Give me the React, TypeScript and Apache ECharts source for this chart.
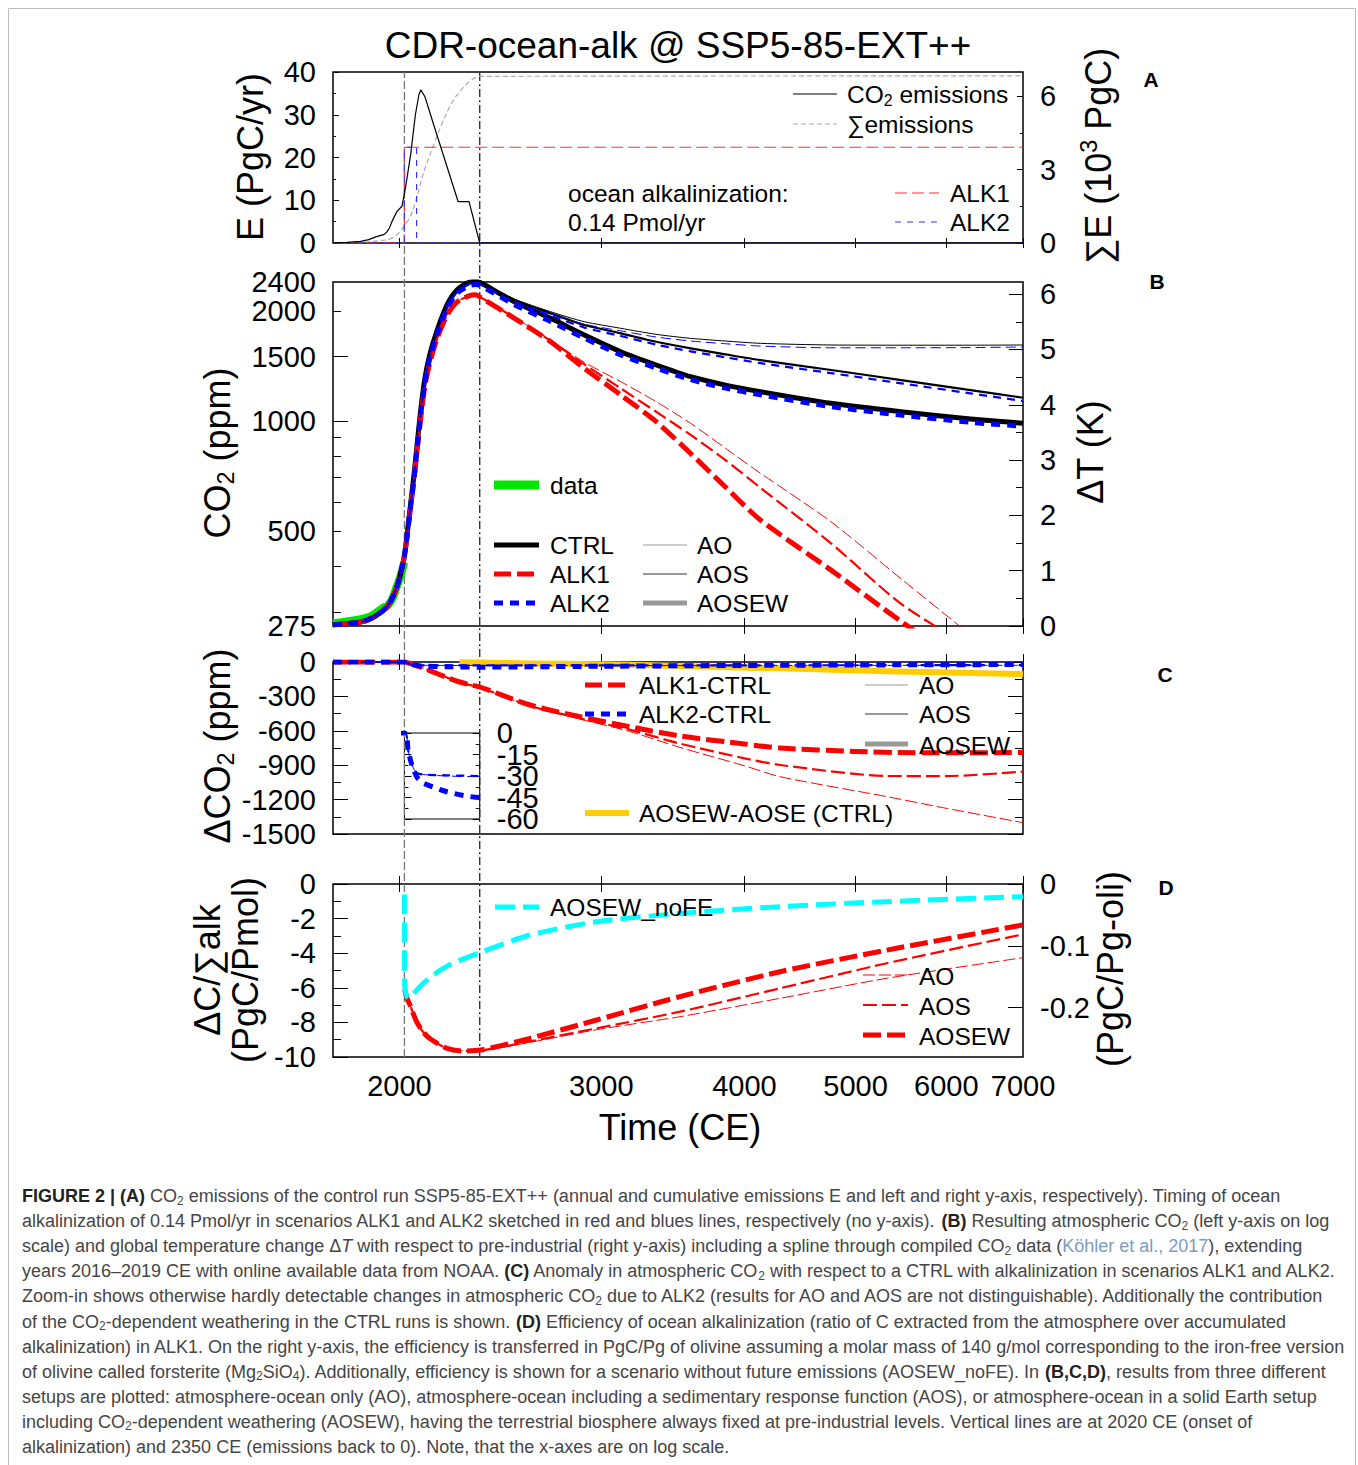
import React, { useEffect, useRef } from "react";
import * as echarts from "echarts";

const FONT = '"Liberation Sans", Arial, Helvetica, sans-serif';
const W = 1358;
const H = 1465;

// ---------------- axes / ticks ----------------
const X_RANGE = [1750, 7000];
const X_TICKS = [2000, 3000, 4000, 5000, 6000, 7000];
const VLINE_YEARS = [2020, 2350];
const INSET_X_RANGE = [2020, 2350];

const A_LEFT_RANGE = [0, 40];
const A_LEFT_TICKS = [0, 10, 20, 30, 40];
const A_LEFT_MINOR = [5, 15, 25, 35];
const A_RIGHT_RANGE = [0, 7];
const A_RIGHT_TICKS = [0, 3, 6];
const A_RIGHT_MINOR = [1.5, 4.5];

const B_LEFT_RANGE = [275, 2400];
const B_LEFT_LABELS = [275, 500, 1000, 1500, 2000, 2400];
const B_LEFT_MAJOR = [1000, 1500];
const B_LEFT_MINOR = [300, 400, 500, 600, 700, 800, 900, 2000];
const B_RIGHT_RANGE = [0, 6.22];
const B_RIGHT_TICKS = [0, 1, 2, 3, 4, 5, 6];
const B_RIGHT_MINOR = [0.5, 1.5, 2.5, 3.5, 4.5, 5.5];

const C_RANGE = [-1500, 0];
const C_TICKS = [0, -300, -600, -900, -1200, -1500];
const C_MINOR = [-150, -450, -750, -1050, -1350];

const D_LEFT_RANGE = [-10, 0];
const D_LEFT_TICKS = [0, -2, -4, -6, -8, -10];
const D_LEFT_MINOR = [-1, -3, -5, -7, -9];
const D_RIGHT_RANGE = [-0.28, 0];
const D_RIGHT_TICKS = [0, -0.1, -0.2];

const INSET_RANGE = [-60, 0];
const INSET_TICKS = [0, -15, -30, -45, -60];
const INSET_LABELS_A = [0, -30, -60];
const INSET_LABELS_B = [-15, -45];
const INSET_MINOR = [-7.5, -22.5, -37.5, -52.5];

// ---------------- panel A data ----------------
const E_YEARS = [1750, 1800, 1850, 1880, 1910, 1940, 1950, 1960, 1970, 1990, 2010, 2020, 2030, 2045, 2065, 2080, 2088, 2105, 2155, 2250, 2300, 2350, 7000];
const E_VALUES = [0.05, 0.15, 0.4, 0.8, 1.5, 2.0, 2.6, 3.5, 5.0, 7.4, 8.6, 11.5, 15.0, 20.5, 30.0, 34.8, 35.8, 34.2, 25.5, 9.7, 9.7, 0, 0];
const CUM_YEARS = [1750, 1850, 1900, 1950, 1980, 2000, 2020, 2045, 2068, 2100, 2130, 2155, 2200, 2240, 2300, 2350, 7000];
const CUM_VALUES = [0, 0.03, 0.07, 0.13, 0.25, 0.45, 0.7, 1.1, 1.77, 2.9, 3.7, 4.35, 5.35, 6.0, 6.6, 6.82, 6.84];
const ALK1_RATE_YEARS = [1750, 2020, 2020, 7000];
const ALK1_RATE = [0, 0, 22.4, 22.4];
const ALK2_RATE_YEARS = [1750, 2020, 2020, 2070, 2070, 7000];
const ALK2_RATE = [0, 0, 22.4, 22.4, 0, 0];

// ---------------- panel B data (CO2 ppm) ----------------
const DATA_YEARS = [1750, 1800, 1850, 1880, 1900, 1920, 1940, 1950, 1960, 1970, 1980, 1990, 2000, 2010, 2019];
const DATA_CO2 = [280, 283, 287, 291, 296, 303, 310, 311, 317, 325, 338, 354, 369, 389, 411];

const YEARS_B = [1750, 1850, 1900, 1950, 1980, 2000, 2020, 2040, 2060, 2085, 2105, 2125, 2155, 2200, 2245, 2300, 2330, 2350, 2520, 2710, 2900, 3120, 3350, 3590, 3850, 4130, 4760, 5480, 6300, 7000];
const CTRL_AOSEW = [277, 282, 291, 310, 338, 372, 428, 553, 720, 1040, 1310, 1515, 1755, 2076, 2283, 2395, 2410, 2395, 2120, 1909, 1719, 1547, 1423, 1322, 1254, 1203, 1118, 1060, 1013, 986];
const CTRL_AOS = [277, 282, 291, 310, 338, 372, 428, 553, 720, 1040, 1310, 1515, 1755, 2076, 2283, 2395, 2410, 2398, 2142, 1971, 1830, 1737, 1647, 1580, 1522, 1468, 1379, 1294, 1215, 1158];
const CTRL_AO = [277, 282, 291, 310, 338, 372, 428, 553, 720, 1040, 1310, 1515, 1755, 2076, 2283, 2395, 2410, 2400, 2156, 1990, 1869, 1793, 1726, 1683, 1655, 1631, 1614, 1612, 1612, 1614];
const ALK1_AOSEW = [277, 282, 291, 310, 338, 372, 428, 543, 700, 990, 1250, 1435, 1665, 1945, 2115, 2200, 2215, 2185, 1909, 1647, 1393, 1178, 996, 815, 660, 536, 391, 283, 210, 170];
const ALK1_AOS = [277, 282, 291, 310, 338, 372, 428, 543, 700, 990, 1250, 1435, 1665, 1945, 2115, 2200, 2215, 2188, 1915, 1655, 1429, 1228, 1060, 916, 782, 657, 463, 316, 240, 195];
const ALK1_AO = [277, 282, 291, 310, 338, 372, 428, 543, 700, 990, 1250, 1435, 1665, 1945, 2115, 2200, 2215, 2190, 1920, 1665, 1447, 1281, 1129, 986, 842, 720, 530, 370, 260, 200];
const ALK2_AOSEW = [277, 282, 291, 310, 338, 372, 428, 545, 703, 1012, 1277, 1478, 1715, 2032, 2236, 2345, 2362, 2350, 2080, 1872, 1685, 1516, 1396, 1298, 1230, 1180, 1095, 1038, 992, 968];
const ALK2_AOS = [277, 282, 291, 310, 338, 372, 428, 545, 703, 1015, 1285, 1488, 1728, 2048, 2254, 2366, 2381, 2368, 2112, 1942, 1801, 1708, 1618, 1551, 1494, 1440, 1352, 1268, 1190, 1134];
const ALK2_AO = [277, 282, 291, 310, 338, 372, 428, 545, 703, 1015, 1285, 1488, 1728, 2048, 2254, 2366, 2381, 2370, 2126, 1961, 1840, 1764, 1697, 1655, 1627, 1603, 1586, 1586, 1588, 1594];

// ---------------- panel C data (delta CO2 ppm) ----------------
const C_ALK1_AOSEW = [[1750, 0], [2020, 0], [2050, -18], [2100, -55], [2150, -95], [2200, -135], [2250, -170], [2300, -196], [2350, -218], [2600, -375], [2875, -477], [3174, -564], [3514, -645], [4000, -715], [4296, -750], [5000, -780], [5613, -791], [7000, -790]];
const C_ALK1_AOS = [[1750, 0], [2020, 0], [2050, -18], [2100, -55], [2150, -95], [2200, -136], [2250, -172], [2300, -199], [2350, -222], [2600, -382], [2875, -492], [3174, -590], [3514, -712], [4000, -840], [4296, -898], [5324, -994], [6000, -995], [7000, -956]];
const C_ALK1_AO = [[1750, 0], [2020, 0], [2050, -18], [2100, -55], [2150, -95], [2200, -136], [2250, -172], [2300, -199], [2350, -222], [2600, -385], [2875, -498], [3174, -605], [3514, -745], [4000, -905], [4296, -1000], [5324, -1174], [6000, -1276], [7000, -1401]];
const C_ALK2_AOSEW = [[1750, 0], [2020, 0], [2035, -12], [2050, -22], [2072, -31], [2100, -35], [2200, -41], [2350, -45], [2600, -42], [3000, -37], [4000, -30], [5000, -26], [7000, -22]];
const C_ALK2_AOS = [[1750, 0], [2020, 0], [2035, -12], [2050, -22], [2072, -28], [2100, -29], [2200, -29.5], [2350, -30], [3000, -30], [4000, -29], [7000, -27]];
const C_ALK2_AO = [[1750, 0], [2020, 0], [2035, -12], [2050, -22], [2072, -28], [2100, -29], [2200, -30], [2350, -30.5], [3000, -31], [4000, -30], [7000, -29]];
const C_WEATHERING = [[2256, -2], [2350, -5], [2600, -12], [3000, -20], [3514, -35], [4296, -55], [5324, -80], [7000, -105]];

// ---------------- panel D data (PgC/Pmol) ----------------
const D_NOFE = [[2020, -0.6], [2021, -5.9], [2030, -6.5], [2040, -6.6], [2060, -6.3], [2090, -5.85], [2127, -5.4], [2200, -4.75], [2280, -4.3], [2355, -3.95], [2600, -2.95], [2973, -2.18], [3514, -1.7], [4296, -1.31], [5324, -1.02], [7000, -0.73]];
const D_AOSEW = [[2021, -6.1], [2030, -6.6], [2043, -7.0], [2070, -7.96], [2100, -8.6], [2135, -9.02], [2200, -9.5], [2270, -9.65], [2355, -9.6], [2600, -8.92], [2973, -7.86], [3514, -6.51], [4296, -5.07], [5324, -3.82], [7000, -2.37]];
const D_AOS = [[2021, -6.1], [2030, -6.6], [2043, -7.0], [2070, -7.96], [2100, -8.6], [2135, -9.02], [2200, -9.5], [2270, -9.65], [2355, -9.62], [2600, -9.1], [2973, -8.34], [3514, -7.38], [4296, -6.03], [5324, -4.58], [7000, -2.91]];
const D_AO = [[2021, -6.1], [2030, -6.6], [2043, -7.0], [2070, -7.96], [2100, -8.6], [2135, -9.02], [2200, -9.5], [2270, -9.65], [2355, -9.63], [2600, -9.15], [2973, -8.42], [3514, -7.67], [4296, -6.61], [5324, -5.45], [7000, -4.26]];

// ---------------- caption ----------------
const CAPTION = [
  [["b", "FIGURE 2 | (A)"], ["n", " CO"], ["s", "2"], ["n", " emissions of the control run SSP5-85-EXT++ (annual and cumulative emissions E and left and right y-axis, respectively). Timing of ocean"]],
  [["n", "alkalinization of 0.14 Pmol/yr in scenarios ALK1 and ALK2 sketched in red and blues lines, respectively (no y-axis). "], ["b", "(B)"], ["n", " Resulting atmospheric CO"], ["s", "2"], ["n", " (left y-axis on log"]],
  [["n", "scale) and global temperature change Δ"], ["i", "T"], ["n", " with respect to pre-industrial (right y-axis) including a spline through compiled CO"], ["s", "2"], ["n", " data ("], ["l", "Köhler et al., 2017"], ["n", "), extending"]],
  [["n", "years 2016–2019 CE with online available data from NOAA. "], ["b", "(C)"], ["n", " Anomaly in atmospheric CO"], ["s", "2"], ["n", " with respect to a CTRL with alkalinization in scenarios ALK1 and ALK2."]],
  [["n", "Zoom-in shows otherwise hardly detectable changes in atmospheric CO"], ["s", "2"], ["n", " due to ALK2 (results for AO and AOS are not distinguishable). Additionally the contribution"]],
  [["n", "of the CO"], ["s", "2"], ["n", "-dependent weathering in the CTRL runs is shown. "], ["b", "(D)"], ["n", " Efficiency of ocean alkalinization (ratio of C extracted from the atmosphere over accumulated"]],
  [["n", "alkalinization) in ALK1. On the right y-axis, the efficiency is transferred in PgC/Pg of olivine assuming a molar mass of 140 g/mol corresponding to the iron-free version"]],
  [["n", "of olivine called forsterite (Mg"], ["s", "2"], ["n", "SiO"], ["s", "4"], ["n", "). Additionally, efficiency is shown for a scenario without future emissions (AOSEW_noFE). In "], ["b", "(B,C,D)"], ["n", ", results from three different"]],
  [["n", "setups are plotted: atmosphere-ocean only (AO), atmosphere-ocean including a sedimentary response function (AOS), or atmosphere-ocean in a solid Earth setup"]],
  [["n", "including CO"], ["s", "2"], ["n", "-dependent weathering (AOSEW), having the terrestrial biosphere always fixed at pre-industrial levels. Vertical lines are at 2020 CE (onset of"]],
  [["n", "alkalinization) and 2350 CE (emissions back to 0). Note, that the x-axes are on log scale."]],
];

// ---------------- layout ----------------
const PL = 333;
const PW = 690;
const A_TOP = 72, A_H = 171;
const B_TOP = 282, B_H = 344;
const C_TOP = 662, C_H = 172;
const D_TOP = 884, D_H = 173;
const INSET_TOP = 733, INSET_H = 86;

const RED = "#ff0000";
const BLUE = "#0000ff";
const GREEN = "#00e600";
const CYAN = "#00ffff";
const YELLOW = "#ffcc00";
const LEG_GRAY = "#999999";
const DASH1 = { AO: [12, 4], AOS: [14, 5], AOSEW: [18, 6] };
const DASH2 = { AO: [10, 5], AOS: [8, 6], AOSEW: [9, 7] };
const WID = { AO: 1, AOS: 2.2, AOSEW: 5 };
const SMOOTH = 0.25;

const lg = Math.log10;
const ident = (v: number) => v;

function xAx(gridIndex: number, position: string, tickLen: number, labels: boolean, range = X_RANGE, show = true) {
  return {
    type: "value", gridIndex, position, show, min: lg(range[0]), max: lg(range[1]),
    axisLine: { show: false }, splitLine: { show: false }, minorTick: { show: false },
    axisTick: { show: tickLen > 0, inside: true, length: tickLen, customValues: X_TICKS.map(lg), lineStyle: { color: "#000", width: 1 } },
    axisLabel: labels
      ? { show: true, customValues: X_TICKS.map(lg), formatter: (v: number) => String(Math.round(Math.pow(10, v))), fontSize: 29, fontFamily: FONT, color: "#000", margin: 14, showMinLabel: true, showMaxLabel: true, hideOverlap: false }
      : { show: false },
  };
}

function yAx(gridIndex: number, position: string, range: number[], ticks: number[], len: number, labels: number[] | null, log = false, fmt?: (v: number) => string, margin = 17) {
  const tf = log ? lg : ident;
  return {
    type: "value", gridIndex, position, min: tf(range[0]), max: tf(range[1]),
    axisLine: { show: false }, splitLine: { show: false }, minorTick: { show: false },
    axisTick: { show: ticks.length > 0, inside: true, length: len, customValues: ticks.length ? ticks.map(tf) : undefined, lineStyle: { color: "#000", width: 1 } },
    axisLabel: labels
      ? { show: true, customValues: labels.map(tf), formatter: fmt || ((v: number) => String(Math.round(v * 1000) / 1000)), fontSize: 29, fontFamily: FONT, color: "#000", margin, showMinLabel: true, showMaxLabel: true, hideOverlap: false }
      : { show: false },
  };
}

const toXY = (ys: number[], vs: number[]) => ys.map((y, i) => [lg(y), vs[i]]);
const toXYlog = (ys: number[], vs: number[]) => ys.map((y, i) => [lg(y), lg(vs[i])]);
const pairs = (p: number[][]) => p.map(([y, v]) => [lg(y), v]);

function ln(data: number[][], xi: number, yi: number, color: string, width: number, dash: any = "solid", smooth: any = SMOOTH, z = 2) {
  return {
    type: "line", xAxisIndex: xi, yAxisIndex: yi, data, symbol: "none", showSymbol: false, silent: true,
    clip: true, smooth, z, emphasis: { disabled: true },
    lineStyle: { color, width, type: dash, cap: "butt", join: "round" },
  };
}

function richSet(size: number, color = "#000") {
  return {
    n: { fontSize: size, fontFamily: FONT, fill: color, lineHeight: size * 1.15 },
    s: { fontSize: size * 0.65, fontFamily: FONT, fill: color, lineHeight: size * 0.5, verticalAlign: "bottom" },
    p: { fontSize: size * 0.65, fontFamily: FONT, fill: color, lineHeight: size * 0.5, verticalAlign: "top" },
  };
}

function txt(x: number, y: number, text: string, size: number, o: any = {}) {
  return {
    type: "text", x, y, rotation: o.rot || 0, silent: true, z: 100,
    style: {
      text, fill: o.color || "#000", fontSize: size, fontFamily: FONT, fontWeight: o.weight || "normal",
      align: o.align || "left", verticalAlign: "middle", rich: o.rich,
    },
  };
}

function seg(x1: number, y1: number, x2: number, y2: number, color: string, width: number, dash: number[] | null = null) {
  return {
    type: "line", silent: true, z: 100, shape: { x1, y1, x2, y2 },
    style: { stroke: color, lineWidth: width, lineDash: dash, lineCap: "butt" },
  };
}

function buildOption() {
  const xpx = (yr: number) => PL + (PW * (lg(yr) - lg(X_RANGE[0]))) / (lg(X_RANGE[1]) - lg(X_RANGE[0]));
  const insetLeft = xpx(INSET_X_RANGE[0]);
  const insetW = xpx(INSET_X_RANGE[1]) - insetLeft;
  const box = { show: true, borderColor: "#000", borderWidth: 1.5, backgroundColor: "transparent", outerBoundsMode: "none" };

  const grid = [
    { left: PL, top: A_TOP, width: PW, height: A_H, ...box },
    { left: PL, top: B_TOP, width: PW, height: B_H, ...box },
    { left: PL, top: C_TOP, width: PW, height: C_H, ...box },
    { left: PL, top: D_TOP, width: PW, height: D_H, ...box },
    { left: PL, top: A_TOP, width: PW, height: D_TOP + D_H - A_TOP, show: false, outerBoundsMode: "none" },
    { left: insetLeft, top: INSET_TOP, width: insetW, height: INSET_H, ...box, borderWidth: 1 },
  ];

  const xAxis = [
    xAx(0, "bottom", 5, false), xAx(0, "top", 5, false),
    xAx(1, "bottom", 8, false), xAx(1, "top", 8, false),
    xAx(2, "bottom", 8, false), xAx(2, "top", 8, false),
    xAx(3, "bottom", 8, true), xAx(3, "top", 8, false),
    xAx(4, "bottom", 0, false, X_RANGE, false),
    xAx(5, "bottom", 0, false, INSET_X_RANGE, false),
  ];

  const logFmt = (v: number) => String(Math.round(Math.pow(10, v)));
  const yAxis = [
    yAx(0, "left", A_LEFT_RANGE, A_LEFT_TICKS, 6, A_LEFT_TICKS), // 0
    yAx(0, "left", A_LEFT_RANGE, A_LEFT_MINOR, 3, null), // 1
    yAx(0, "right", A_RIGHT_RANGE, A_RIGHT_TICKS, 6, A_RIGHT_TICKS), // 2
    yAx(0, "right", A_RIGHT_RANGE, A_RIGHT_MINOR, 3, null), // 3
    yAx(1, "left", B_LEFT_RANGE, B_LEFT_MAJOR, 15, B_LEFT_LABELS, true, logFmt), // 4
    yAx(1, "left", B_LEFT_RANGE, B_LEFT_MINOR, 8, null, true), // 5
    yAx(1, "right", B_RIGHT_RANGE, B_RIGHT_TICKS, 14, B_RIGHT_TICKS), // 6
    yAx(1, "right", B_RIGHT_RANGE, B_RIGHT_MINOR, 7, null), // 7
    yAx(2, "left", C_RANGE, C_TICKS, 15, C_TICKS), // 8
    yAx(2, "left", C_RANGE, C_MINOR, 8, null), // 9
    yAx(2, "right", C_RANGE, C_TICKS, 15, null), // 10
    yAx(2, "right", C_RANGE, C_MINOR, 8, null), // 11
    yAx(3, "left", D_LEFT_RANGE, D_LEFT_TICKS, 15, D_LEFT_TICKS), // 12
    yAx(3, "left", D_LEFT_RANGE, D_LEFT_MINOR, 8, null), // 13
    yAx(3, "right", D_RIGHT_RANGE, D_RIGHT_TICKS, 15, D_RIGHT_TICKS), // 14
    { type: "value", gridIndex: 4, min: 0, max: 1, show: false }, // 15
    yAx(5, "left", INSET_RANGE, INSET_TICKS, 7, null), // 16
    yAx(5, "left", INSET_RANGE, INSET_MINOR, 4, null), // 17
    yAx(5, "right", INSET_RANGE, INSET_TICKS, 7, INSET_LABELS_A), // 18
    yAx(5, "right", INSET_RANGE, INSET_MINOR, 4, null), // 19
    yAx(5, "right", INSET_RANGE, [], 0, INSET_LABELS_B), // 20
  ];

  const series: any[] = [];
  // overlay vertical lines
  series.push(ln([[lg(VLINE_YEARS[0]), 0], [lg(VLINE_YEARS[0]), 1]], 8, 15, "#777", 1.3, [8, 3], false, 1));
  series.push(ln([[lg(VLINE_YEARS[1]), 0], [lg(VLINE_YEARS[1]), 1]], 8, 15, "#222", 1.3, [8, 3, 2, 3], false, 1));

  // Panel A
  series.push(ln(toXY(CUM_YEARS, CUM_VALUES), 0, 2, "#aaaaaa", 1.2, [5, 3]));
  series.push(ln(toXY(ALK1_RATE_YEARS, ALK1_RATE), 0, 0, "#ff3030", 1.2, [12, 5], false));
  series.push(ln(toXY(ALK2_RATE_YEARS, ALK2_RATE), 0, 0, "#3333ff", 1.2, [6, 6], false));
  series.push(ln(toXY(E_YEARS, E_VALUES), 0, 0, "#000", 1.2, "solid", false));

  // Panel B
  series.push(ln(toXYlog(DATA_YEARS, DATA_CO2), 2, 4, GREEN, 8, "solid"));
  series.push(ln(toXYlog(YEARS_B, CTRL_AO), 2, 4, "#000", WID.AO));
  series.push(ln(toXYlog(YEARS_B, CTRL_AOS), 2, 4, "#000", WID.AOS));
  series.push(ln(toXYlog(YEARS_B, CTRL_AOSEW), 2, 4, "#000", WID.AOSEW));
  series.push(ln(toXYlog(YEARS_B, ALK1_AO), 2, 4, RED, WID.AO, DASH1.AO));
  series.push(ln(toXYlog(YEARS_B, ALK1_AOS), 2, 4, RED, WID.AOS, DASH1.AOS));
  series.push(ln(toXYlog(YEARS_B, ALK1_AOSEW), 2, 4, RED, WID.AOSEW, DASH1.AOSEW));
  series.push(ln(toXYlog(YEARS_B, ALK2_AO), 2, 4, BLUE, WID.AO, DASH2.AO));
  series.push(ln(toXYlog(YEARS_B, ALK2_AOS), 2, 4, BLUE, WID.AOS, DASH2.AOS));
  series.push(ln(toXYlog(YEARS_B, ALK2_AOSEW), 2, 4, BLUE, WID.AOSEW, DASH2.AOSEW));

  // Panel C
  series.push(ln(pairs(C_ALK1_AO), 4, 8, RED, WID.AO, DASH1.AO));
  series.push(ln(pairs(C_ALK1_AOS), 4, 8, RED, WID.AOS, DASH1.AOS));
  series.push(ln(pairs(C_ALK1_AOSEW), 4, 8, RED, WID.AOSEW, DASH1.AOSEW));
  series.push(ln(pairs(C_WEATHERING), 4, 8, YELLOW, 6, "solid"));
  series.push(ln(pairs(C_ALK2_AO), 4, 8, BLUE, WID.AO, DASH2.AO));
  series.push(ln(pairs(C_ALK2_AOS), 4, 8, BLUE, WID.AOS, DASH2.AOS));
  series.push(ln(pairs(C_ALK2_AOSEW), 4, 8, BLUE, WID.AOSEW, DASH2.AOSEW));

  // Inset
  series.push(ln(pairs(C_ALK2_AO), 9, 16, BLUE, WID.AO, DASH2.AO));
  series.push(ln(pairs(C_ALK2_AOS), 9, 16, BLUE, WID.AOS, DASH2.AOS));
  series.push(ln(pairs(C_ALK2_AOSEW), 9, 16, BLUE, WID.AOSEW, DASH2.AOSEW));

  // Panel D
  series.push(ln(pairs(D_AO), 6, 12, RED, WID.AO, DASH1.AO));
  series.push(ln(pairs(D_AOS), 6, 12, RED, WID.AOS, DASH1.AOS));
  series.push(ln(pairs(D_AOSEW), 6, 12, RED, WID.AOSEW, DASH1.AOSEW));
  series.push(ln(pairs(D_NOFE), 6, 12, CYAN, 5, [20, 8]));

  // ---------- graphic ----------
  const R36 = richSet(36);
  const R24 = richSet(24.5);
  const ROT = Math.PI / 2;
  const LS = 24.5;
  const g: any[] = [
    { type: "rect", silent: true, z: 0, shape: { x: 8.5, y: 8.5, width: 1347, height: 1475 }, style: { fill: "none", stroke: "#bdbdbd", lineWidth: 1 } },
    txt(678, 45, "CDR-ocean-alk @ SSP5-85-EXT++", 37, { align: "center" }),
    // axis titles
    txt(250, 157, "E (PgC/yr)", 36, { align: "center", rot: ROT }),
    txt(1098, 156, "{n|∑E (10}{p|3}{n| PgC)}", 36, { align: "center", rot: ROT, rich: R36 }),
    txt(217, 453, "{n|CO}{s|2}{n| (ppm)}", 36, { align: "center", rot: ROT, rich: R36 }),
    txt(1090, 452, "ΔT (K)", 36, { align: "center", rot: ROT }),
    txt(217, 746, "{n|ΔCO}{s|2}{n| (ppm)}", 36, { align: "center", rot: ROT, rich: R36 }),
    txt(207, 970, "ΔC/∑alk", 36, { align: "center", rot: ROT }),
    txt(245, 970, "(PgC/Pmol)", 36, { align: "center", rot: ROT }),
    txt(1110, 969, "(PgC/Pg-oli)", 36, { align: "center", rot: ROT }),
    txt(680, 1127, "Time (CE)", 36, { align: "center" }),
    // panel letters
    txt(1151, 79, "A", 21, { weight: "bold", align: "center" }),
    txt(1157, 281, "B", 21, { weight: "bold", align: "center" }),
    txt(1165, 674, "C", 21, { weight: "bold", align: "center" }),
    txt(1166, 887, "D", 21, { weight: "bold", align: "center" }),
    // legend A
    seg(793, 94, 837, 94, "#000", 1.2),
    txt(847, 94, "{n|CO}{s|2}{n| emissions}", LS, { rich: R24 }),
    seg(793, 124, 837, 124, "#aaaaaa", 1.2, [5, 3]),
    txt(847, 124, "∑emissions", LS),
    txt(568, 193, "ocean alkalinization:", LS),
    txt(568, 222, "0.14 Pmol/yr", LS),
    seg(895, 193, 939, 193, "#ff3030", 1.2, [12, 5]),
    txt(950, 193, "ALK1", LS),
    seg(895, 222, 939, 222, "#3333ff", 1.2, [6, 6]),
    txt(950, 222, "ALK2", LS),
    // legend B
    seg(494, 485, 539, 485, GREEN, 9),
    txt(550, 485, "data", LS),
    seg(494, 545, 539, 545, "#000", 5),
    txt(550, 545, "CTRL", LS),
    seg(494, 574, 539, 574, RED, 5, [17, 6]),
    txt(550, 574, "ALK1", LS),
    seg(494, 603, 539, 603, BLUE, 5, [9, 7]),
    txt(550, 603, "ALK2", LS),
    seg(643, 545, 687, 545, LEG_GRAY, 1),
    txt(697, 545, "AO", LS),
    seg(643, 574, 687, 574, LEG_GRAY, 2.2),
    txt(697, 574, "AOS", LS),
    seg(643, 603, 687, 603, LEG_GRAY, 5),
    txt(697, 603, "AOSEW", LS),
    // legend C
    seg(585, 685, 629, 685, RED, 5, [17, 6]),
    txt(639, 685, "ALK1-CTRL", LS),
    seg(585, 714, 629, 714, BLUE, 5, [9, 7]),
    txt(639, 714, "ALK2-CTRL", LS),
    seg(585, 813, 629, 813, YELLOW, 6),
    txt(639, 813, "AOSEW-AOSE (CTRL)", LS),
    seg(865, 685, 908, 685, LEG_GRAY, 1),
    txt(919, 685, "AO", LS),
    seg(865, 714, 908, 714, LEG_GRAY, 2.2),
    txt(919, 714, "AOS", LS),
    seg(865, 744, 908, 744, LEG_GRAY, 5),
    txt(919, 745, "AOSEW", LS),
    // legend D
    seg(495, 907, 539, 907, CYAN, 5, [20, 8]),
    txt(550, 907, "AOSEW_noFE", LS),
    seg(863, 975, 908, 975, RED, 1, [12, 4]),
    txt(919, 976, "AO", LS),
    seg(863, 1005, 908, 1005, RED, 2.2, [14, 5]),
    txt(919, 1006, "AOS", LS),
    seg(863, 1035, 908, 1035, RED, 5, [18, 6]),
    txt(919, 1036, "AOSEW", LS),
  ];

  const CS = 18;
  const CC = "#454545";
  const capRich = {
    n: { fontSize: CS, fontFamily: FONT, fill: CC, lineHeight: 21 },
    b: { fontSize: CS, fontFamily: FONT, fontWeight: "bold", fill: "#222", lineHeight: 21 },
    s: { fontSize: 12, fontFamily: FONT, fill: CC, lineHeight: 9, verticalAlign: "bottom" },
    i: { fontSize: CS, fontFamily: FONT, fontStyle: "italic", fill: CC, lineHeight: 21 },
    l: { fontSize: CS, fontFamily: FONT, fill: "#7d9bc1", lineHeight: 21 },
  };
  CAPTION.forEach((line, i) => {
    const text = line.map(([k, t]) => `{${k}|${t}}`).join("");
    g.push(txt(22, 1196 + i * 25.1, text, CS, { rich: capRich, color: CC }));
  });

  return {
    animation: false,
    backgroundColor: "#ffffff",
    textStyle: { fontFamily: FONT },
    grid,
    xAxis,
    yAxis,
    series,
    graphic: { elements: g },
  };
}

export default function App() {
  const ref = useRef<HTMLDivElement>(null);
  useEffect(() => {
    if (!ref.current) return;
    const chart = echarts.init(ref.current, null, { renderer: "svg", width: W, height: H });
    chart.setOption(buildOption() as any);
    return () => chart.dispose();
  }, []);
  return <div ref={ref} style={{ position: "absolute", left: 0, top: 0, width: W, height: H, background: "#fff" }} />;
}
